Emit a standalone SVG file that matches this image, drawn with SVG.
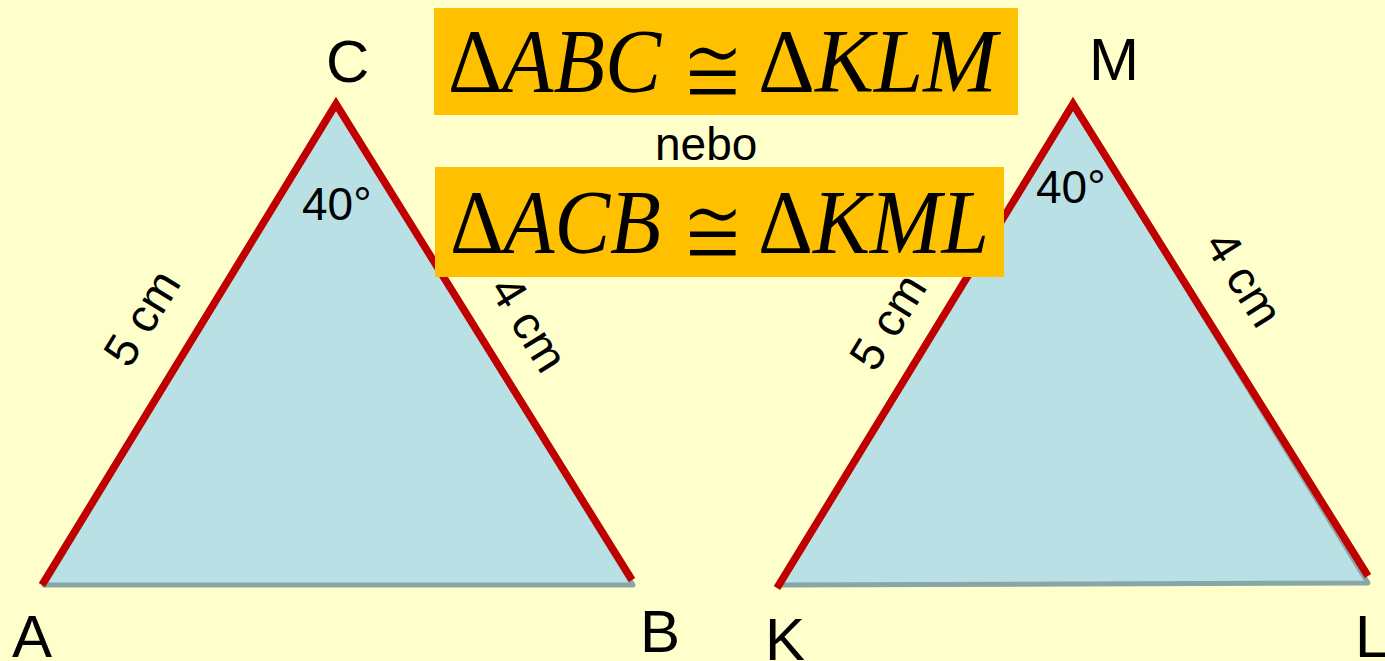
<svg xmlns="http://www.w3.org/2000/svg" width="1385" height="661" viewBox="0 0 1385 661">
<style>
.tri{fill:#B9E0E4;stroke:#88A5A8;stroke-width:5;stroke-linejoin:round}
.edge{stroke:#C00000;stroke-width:7.5;fill:none;stroke-linecap:butt}
.lbl{font-family:"Liberation Sans",Arial,sans-serif;fill:#000}
.vx{font-size:60px}
.ang{font-size:46px}
.len{font-size:47px}
.box{fill:#FFC000}
.frm{font-family:"Liberation Serif","DejaVu Serif",serif;fill:#000}
.it{font-style:italic}
.cong{font-family:"DejaVu Sans",sans-serif;font-size:76px;fill:#000;stroke:#FFC000;stroke-width:2}
</style>
<rect width="1385" height="661" fill="#FFFFCC"/>
<g id="triangle-ABC">
<polygon class="tri" points="44,585 633,585 336,104"/>
<polyline class="edge" points="42,585 336,104 632,580"/>
<text class="lbl vx" x="12" y="657">A</text>
<text class="lbl vx" x="640" y="652">B</text>
<text class="lbl vx" x="326" y="82">C</text>
<text class="lbl ang" x="302" y="220">40°</text>
<text class="lbl len" text-anchor="middle" transform="translate(142,318) rotate(-58.7)" x="0" y="16">5 cm</text>
<text class="lbl len" text-anchor="middle" transform="translate(529,324) rotate(58.2)" x="0" y="16">4 cm</text>
</g>
<g id="triangle-KLM">
<polygon class="tri" points="780,585 1368,583 1073,104"/>
<polyline class="edge" points="777,588 1073,104 1368,576"/>
<text class="lbl vx" x="765" y="660">K</text>
<text class="lbl vx" x="1355" y="657">L</text>
<text class="lbl vx" x="1089" y="80">M</text>
<text class="lbl ang" x="1036" y="203">40°</text>
<text class="lbl len" text-anchor="middle" transform="translate(888,322) rotate(-58.5)" x="0" y="16">5 cm</text>
<text class="lbl len" text-anchor="middle" transform="translate(1244,279) rotate(58)" x="0" y="16">4 cm</text>
</g>
<g id="formula-1">
<rect class="box" x="434" y="8" width="584" height="107"/>
<text class="frm" font-size="90" x="448" y="92" textLength="213" lengthAdjust="spacingAndGlyphs">Δ<tspan class="it">ABC</tspan></text>
<text class="cong" transform="translate(681,92) scale(1,1.33)" x="0" y="10">≅</text>
<text class="frm" font-size="90" x="758" y="92" textLength="239" lengthAdjust="spacingAndGlyphs">Δ<tspan class="it">KLM</tspan></text>
</g>
<g id="nebo">
<text class="lbl" x="655" y="160" font-size="46">nebo</text>
</g>
<g id="formula-2">
<rect class="box" x="435" y="167" width="569" height="110"/>
<text class="frm" font-size="92" x="450" y="253" textLength="211" lengthAdjust="spacingAndGlyphs">Δ<tspan class="it">ACB</tspan></text>
<text class="cong" transform="translate(681,253) scale(1,1.33)" x="0" y="10">≅</text>
<text class="frm" font-size="92" x="758" y="253" textLength="231" lengthAdjust="spacingAndGlyphs">Δ<tspan class="it">KML</tspan></text>
</g>
<g id="connectors"></g>
</svg>
